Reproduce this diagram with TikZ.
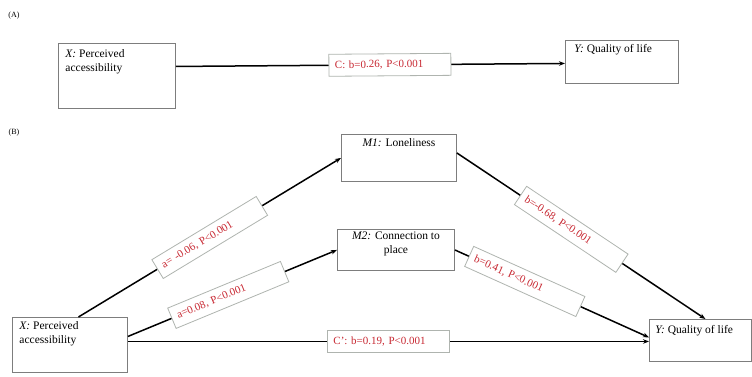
\documentclass[tikz,border=0pt]{standalone}
\usepackage{fontspec}
\setmainfont{Liberation Serif}
\usetikzlibrary{arrows.meta}
\definecolor{lblred}{RGB}{200,40,50}
\definecolor{boxgray}{RGB}{125,125,125}
\definecolor{lblgray}{RGB}{175,180,175}
\newcommand\boxtxt[5]{\parbox[c][#2][t]{#1}{\vspace*{#3}\hspace*{#4}\parbox[t]{\dimexpr#1-#4-#4\relax}{#5}}}
\begin{document}
\begin{tikzpicture}[x=1pt,y=-1pt,
  box/.style={draw=boxgray, line width=0.9pt, anchor=north west, inner sep=0pt, font=\fontsize{11.5}{14}\selectfont},
  lbl/.style={draw=lblgray, line width=0.8pt, fill=white, text=lblred, font=\fontsize{11}{12}\selectfont, minimum width=122pt, minimum height=22pt, text width=110pt, align=left, inner xsep=6pt, inner ysep=0pt},
  conn/.style={line width=1.5pt, -{Stealth[length=6pt,width=4.5pt]}},
  tag/.style={font=\fontsize{8}{9}\selectfont}]
\useasboundingbox (0,0) rectangle (752,376);

% (A)
\node[tag] (ta) at (14,16) {(A)};
\node[box] (xa) at (58,43) {\boxtxt{117pt}{65pt}{6pt}{7pt}{\raggedright\textit{X:} Perceived\\accessibility}};
\node[box] (ya) at (565,40) {\boxtxt{113pt}{43pt}{4pt}{9pt}{\raggedright\textit{Y:} Quality of life}};
\draw[conn] ([yshift=9.5pt]xa.east) -- node[lbl, sloped, pos=0.55] (ca) {C: b=0.26, P<0.001} ([yshift=-1.5pt]ya.west);

% (B)
\node[tag] (tb) at (14,133) {(B)};
\node[box] (m1) at (341,134) {\boxtxt{115pt}{47pt}{4pt}{4pt}{\centering\textit{M1:} Loneliness}};
\node[box] (m2) at (337,229) {\boxtxt{117pt}{41pt}{2pt}{4pt}{\centering\textit{M2:} Connection to\\place}};
\node[box] (xb) at (12,317) {\boxtxt{115pt}{55pt}{4pt}{7pt}{\raggedright\textit{X:} Perceived\\accessibility}};
\node[box] (yb) at (649,319) {\boxtxt{102pt}{42pt}{6pt}{6pt}{\raggedright\textit{Y:} Quality of life}};

\draw[conn] ([xshift=8.5pt]xb.north) -- node[lbl, sloped, pos=0.50] (a1) {a= -0.06, P<0.001} (m1.west);
\draw[conn] ([yshift=8.5pt]xb.east) -- node[lbl, sloped, pos=0.48] (a2) {a=0.08, P<0.001} (m2.west);
\draw[conn] ([yshift=3.5pt]xb.east) -- node[lbl, sloped, pos=0.50] (cb) {C': b=0.19, P<0.001} ([yshift=-1pt]yb.west);
\draw[conn] ([yshift=5pt]m1.east) -- node[lbl, sloped, pos=0.46] (b1) {b=-0.68, P<0.001} ([xshift=5pt]yb.north);
\draw[conn] (m2.east) -- node[lbl, sloped, pos=0.36] (b2) {b=0.41, P<0.001} ([yshift=3pt]yb.west);
\end{tikzpicture}
\end{document}
